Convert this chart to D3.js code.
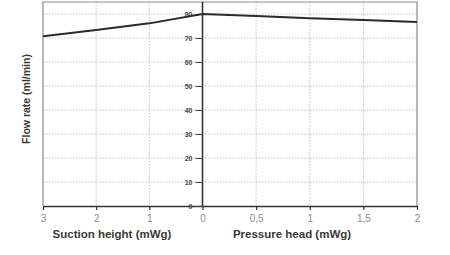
<!DOCTYPE html>
<html>
<head>
<meta charset="utf-8">
<script src="https://cdn.jsdelivr.net/npm/d3@7"></script>
<style>
  body { margin: 0; background: #fff; }
  svg { display: block; font-family: "Liberation Sans", Arial, sans-serif; }
</style>
</head>
<body>
<div id="chart"></div>
<script>
// data
const suctionX = [3, 2, 1, 0];
const suctionFlow = [70.7, 73.3, 76.1, 80];
const pressureX = [0, 0.5, 1, 1.5, 2];
const pressureFlow = [80, 79.2, 78.2, 77.5, 76.7];
const suctionTicks = [3, 2, 1, 0];
const pressureTicks = [0.5, 1, 1.5, 2];
const flowTicks = [0, 10, 20, 30, 40, 50, 60, 70, 80];

const width = 450, height = 255;
const mLeft = 43, mMid = 202.5, mRight = 417, mTop = 2, mBottom = 206;

const xS = d3.scaleLinear().domain([3, 0]).range([mLeft, mMid]);
const xP = d3.scaleLinear().domain([0, 2]).range([mMid, mRight]);
const y = d3.scaleLinear().domain([0, 85]).range([mBottom, mTop]);

const svg = d3.select("#chart").append("svg")
  .attr("width", width)
  .attr("height", height)
  .attr("viewBox", [0, 0, width, height]);

// dotted grid
const grid = svg.append("g")
  .attr("stroke", "#c4c4c4")
  .attr("stroke-width", 1)
  .attr("stroke-dasharray", "1.5,1.5");
grid.selectAll(".hy").data(flowTicks.filter(d => d > 0)).join("line")
  .attr("class", "hy")
  .attr("x1", mLeft).attr("x2", mRight)
  .attr("y1", d => y(d)).attr("y2", d => y(d));
grid.selectAll(".vs").data(suctionTicks.filter(d => d > 0 && d < 3)).join("line")
  .attr("class", "vs")
  .attr("x1", d => xS(d)).attr("x2", d => xS(d))
  .attr("y1", mTop).attr("y2", mBottom);
grid.selectAll(".vp").data(pressureTicks.filter(d => d < 2)).join("line")
  .attr("class", "vp")
  .attr("x1", d => xP(d)).attr("x2", d => xP(d))
  .attr("y1", mTop).attr("y2", mBottom);

// frame
svg.append("path")
  .attr("fill", "none")
  .attr("stroke", "#8a8a8a")
  .attr("stroke-width", 1.2)
  .attr("d", `M${mLeft},${mBottom}V${mTop}H${mRight}V${mBottom}`);

// bottom axes
const axS = d3.axisBottom(xS).tickValues(suctionTicks).tickSize(4).tickSizeOuter(0).tickFormat(d3.format("d"));
const axP = d3.axisBottom(xP).tickValues(pressureTicks).tickSize(4).tickSizeOuter(0)
  .tickFormat(d => String(d).replace(".", ","));
[axS, axP].forEach(ax => {
  svg.append("g")
    .attr("transform", `translate(0,${mBottom})`)
    .call(ax)
    .call(g => g.select(".domain").attr("stroke", "#333").attr("stroke-width", 1.6))
    .call(g => g.selectAll(".tick line").attr("stroke", "#333").attr("stroke-width", 1.2))
    .call(g => g.selectAll(".tick text")
      .attr("fill", "#8c8c8c")
      .attr("font-size", 10)
      .attr("dy", "0.85em"));
});

// centre y axis
svg.append("g")
  .attr("transform", `translate(${mMid},0)`)
  .call(d3.axisLeft(y).tickValues(flowTicks).tickSize(7).tickSizeOuter(0).tickPadding(3))
  .call(g => g.select(".domain").attr("stroke", "#333").attr("stroke-width", 1.6)
    .attr("d", `M0,${mTop}V${mBottom}`))
  .call(g => g.selectAll(".tick line").attr("stroke", "#444").attr("stroke-width", 1))
  .call(g => g.selectAll(".tick text")
    .attr("fill", "#444")
    .attr("font-size", 7)
    .attr("font-weight", "bold"));

// flow curve
const lineS = d3.line().x((d, i) => xS(suctionX[i])).y(d => y(d));
const lineP = d3.line().x((d, i) => xP(pressureX[i])).y(d => y(d));
svg.append("path")
  .attr("fill", "none")
  .attr("stroke", "#2b2b2b")
  .attr("stroke-width", 2)
  .attr("stroke-linejoin", "round")
  .attr("d", lineS(suctionFlow) + lineP(pressureFlow).replace("M", "L"));

// titles
const title = (txt, x, yy, rot, size) => svg.append("text")
  .attr("transform", `translate(${x},${yy})` + (rot ? ` rotate(${rot})` : ""))
  .attr("text-anchor", "middle")
  .attr("fill", "#3a3a3a")
  .attr("font-size", size)
  .attr("font-weight", "bold")
  .text(txt);
title("Suction height (mWg)", 112, 238, 0, 11.5);
title("Pressure head (mWg)", 292, 238, 0, 11.5);
title("Flow rate (ml/min)", 30, 99, -90, 10.5);
</script>
</body>
</html>
